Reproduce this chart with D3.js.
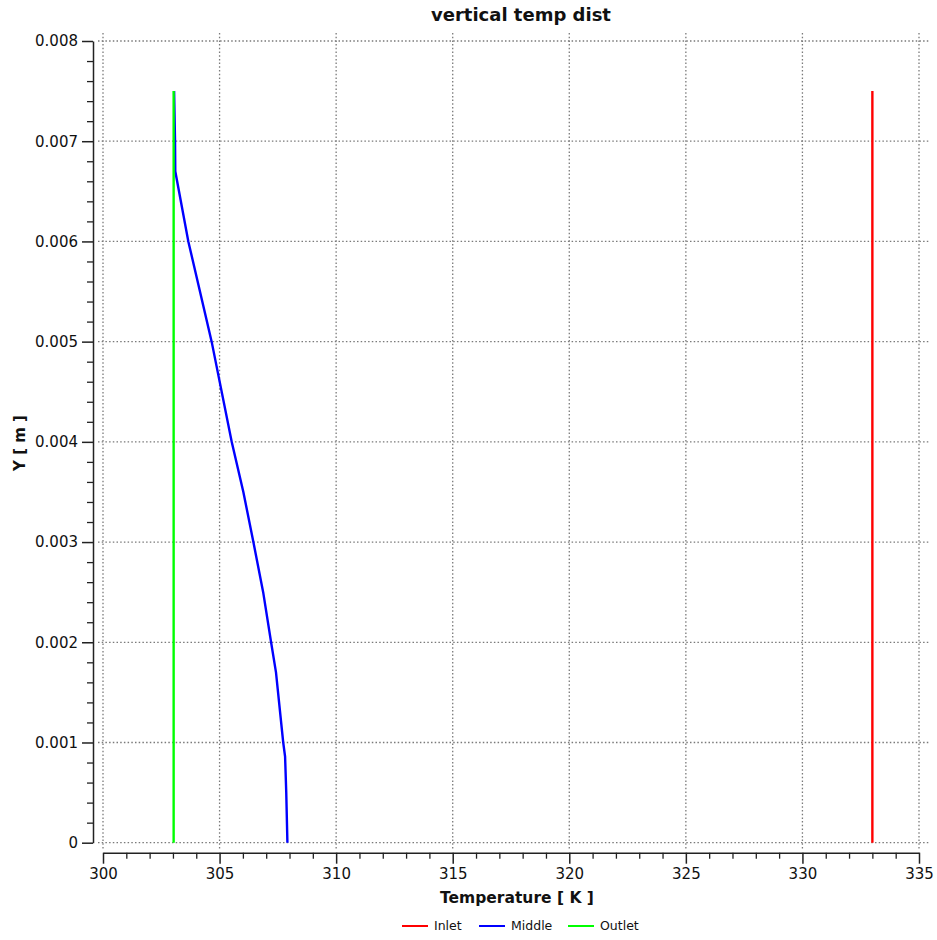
<!DOCTYPE html>
<html>
<head>
<meta charset="utf-8">
<script src="https://cdn.jsdelivr.net/npm/d3@7"></script>
<style>
  body { margin: 0; background: #fff; }
  text { font-family: "DejaVu Sans", Verdana, sans-serif; fill: #111; }
</style>
</head>
<body>
<div id="chart"></div>
<script>
// data
const seriesNames = ["Inlet", "Middle", "Outlet"];
const seriesColors = ["#ff0000", "#0000ff", "#00ff00"];

const inletT = [333.0, 333.0];
const inletY = [0, 0.0075];

const middleT = [307.91, 307.86, 307.81, 307.73, 307.42, 307.21, 306.87, 306.45, 306.02, 305.52, 304.66, 303.66, 303.10, 303.09, 303.05];
const middleY = [0, 0.0005, 0.00086, 0.001, 0.0017, 0.002, 0.0025, 0.003, 0.0035, 0.004, 0.005, 0.006, 0.0067, 0.007, 0.0075];

const outletT = [303.03, 303.03];
const outletY = [0, 0.0075];

const xMajor = [300, 305, 310, 315, 320, 325, 330, 335];
const yMajor = [0, 0.001, 0.002, 0.003, 0.004, 0.005, 0.006, 0.007, 0.008];
const yLabels = ["0", "0.001", "0.002", "0.003", "0.004", "0.005", "0.006", "0.007", "0.008"];

const W = 937, H = 940;
const svg = d3.select("#chart").append("svg")
  .attr("width", W).attr("height", H);

const x = d3.scaleLinear().domain([300, 335]).range([103, 919]);
const y = d3.scaleLinear().domain([0, 0.008]).range([842.7, 41]);

// grid
const grid = svg.append("g").attr("stroke", "#7a7a7a").attr("stroke-width", 1.3)
  .attr("stroke-dasharray", "1.5,2.2").attr("fill", "none");
grid.selectAll("line.v").data(xMajor).enter().append("line")
  .attr("x1", d => x(d)).attr("x2", d => x(d))
  .attr("y1", 33).attr("y2", 849);
grid.selectAll("line.h").data(yMajor).enter().append("line")
  .attr("y1", d => y(d)).attr("y2", d => y(d))
  .attr("x1", 98).attr("x2", 930);

// x axis
const xMinor = d3.range(300, 336, 1).filter(v => v % 5 !== 0);
const axisY = 852.7;
svg.append("g")
  .attr("transform", `translate(0,${axisY})`)
  .call(d3.axisBottom(x).tickValues(xMinor).tickSize(6).tickFormat(""))
  .call(g => g.select(".domain").remove())
  .selectAll("line").attr("stroke", "#222").attr("stroke-width", 1.3);
const xAx = svg.append("g")
  .attr("transform", `translate(0,${axisY})`)
  .call(d3.axisBottom(x).tickValues(xMajor).tickSize(11).tickSizeOuter(0).tickPadding(5).tickFormat(d3.format("d")));
xAx.select(".domain").attr("stroke", "#222").attr("stroke-width", 1.5);
xAx.selectAll(".tick line").attr("stroke", "#222").attr("stroke-width", 1.5);
xAx.selectAll("text").style("font-size", "15px").attr("fill", "#111")
  .style("font-family", '"DejaVu Sans", Verdana, sans-serif');

// y axis
const yMinor = d3.range(0, 41).map(i => i * 0.0002).filter((v, i) => i % 5 !== 0);
const axisX = 93;
svg.append("g")
  .attr("transform", `translate(${axisX},0)`)
  .call(d3.axisLeft(y).tickValues(yMinor).tickSize(6).tickFormat(""))
  .call(g => g.select(".domain").remove())
  .selectAll("line").attr("stroke", "#222").attr("stroke-width", 1.3);
const yAx = svg.append("g")
  .attr("transform", `translate(${axisX},0)`)
  .call(d3.axisLeft(y).tickValues(yMajor).tickSize(11).tickSizeOuter(0).tickPadding(4)
    .tickFormat((d, i) => yLabels[i]));
yAx.select(".domain").attr("stroke", "#222").attr("stroke-width", 1.5);
yAx.selectAll(".tick line").attr("stroke", "#222").attr("stroke-width", 1.5);
yAx.selectAll("text").style("font-size", "15px").attr("fill", "#111")
  .style("font-family", '"DejaVu Sans", Verdana, sans-serif');

// lines
const line = d3.line().x(d => x(d[0])).y(d => y(d[1]));
const series = [
  inletT.map((t, i) => [t, inletY[i]]),
  middleT.map((t, i) => [t, middleY[i]]),
  outletT.map((t, i) => [t, outletY[i]])
];
svg.append("g").selectAll("path").data(series).enter().append("path")
  .attr("d", line)
  .attr("fill", "none")
  .attr("stroke", (d, i) => seriesColors[i])
  .attr("stroke-width", 2.4);

// title and axis titles
svg.append("text").attr("x", 521).attr("y", 21).attr("text-anchor", "middle")
  .style("font-size", "18px").style("font-weight", "bold").text("vertical temp dist");
svg.append("text").attr("x", 517).attr("y", 903).attr("text-anchor", "middle")
  .style("font-size", "15.5px").style("font-weight", "bold").text("Temperature [ K ]");
svg.append("text").attr("transform", "translate(25,443) rotate(-90)").attr("text-anchor", "middle")
  .style("font-size", "15px").style("font-weight", "bold").text("Y [ m ]");

// legend
const legendX = [402, 479, 568];
const leg = svg.append("g").selectAll("g").data(seriesNames).enter().append("g")
  .attr("transform", (d, i) => `translate(${legendX[i]},926)`);
leg.append("line").attr("x1", 0).attr("x2", 26).attr("y1", 0).attr("y2", 0)
  .attr("stroke", (d, i) => seriesColors[i]).attr("stroke-width", 2);
leg.append("text").attr("x", 32).attr("dy", "0.35em")
  .style("font-size", "12.5px").attr("fill", "#1a1a2e").text(d => d);
</script>
</body>
</html>
